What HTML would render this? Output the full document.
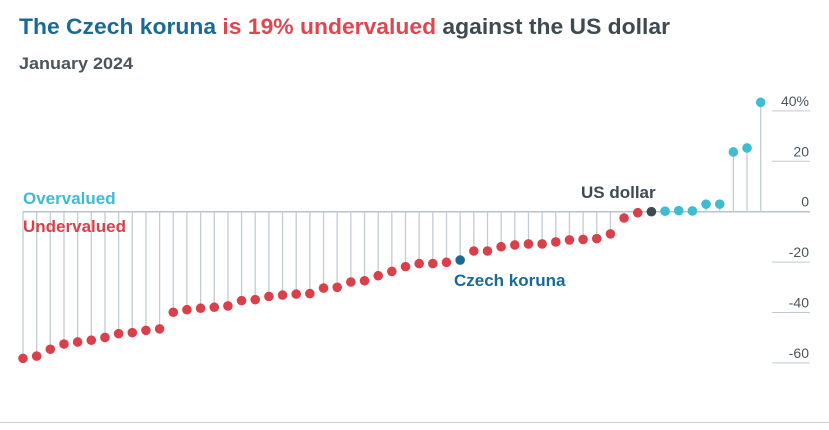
<!DOCTYPE html>
<html><head><meta charset="utf-8"><style>
html,body{margin:0;padding:0;background:#fff;}
svg{display:block;font-family:"Liberation Sans",sans-serif;}
</style></head><body>
<svg id="chart" width="829" height="430" viewBox="0 0 829 430">
<text x="19" y="34" font-size="22" font-weight="bold" textLength="651" lengthAdjust="spacingAndGlyphs"><tspan fill="#1b6a96">The Czech koruna</tspan><tspan fill="#e0464f"> is 19% undervalued</tspan><tspan fill="#3d4a52"> against the US dollar</tspan></text>
<text x="19" y="69" font-size="17" font-weight="bold" fill="#4a555c" textLength="114" lengthAdjust="spacingAndGlyphs">January 2024</text>
<g id="grid"></g>
<g id="stems"></g>
<g id="dots"></g>
<text x="23" y="204" font-size="17" font-weight="bold" fill="#3ebcd2">Overvalued</text>
<text x="23" y="232" font-size="17" font-weight="bold" fill="#d9404b">Undervalued</text>
<text x="581" y="198" font-size="17" font-weight="bold" fill="#3d4a52">US dollar</text>
<text x="454" y="286" font-size="17" font-weight="bold" fill="#1b6a96">Czech koruna</text>
<line x1="0" y1="422.5" x2="829" y2="422.5" stroke="#c9cfd4" stroke-width="1"/>
</svg>
<script>
const values = [-58.2,-57.3,-54.6,-52.5,-51.7,-51.0,-49.9,-48.4,-48.0,-47.1,-46.5,-39.9,-38.9,-38.3,-37.9,-37.4,-35.3,-34.9,-33.6,-33.1,-32.7,-32.5,-30.3,-30.0,-27.9,-27.4,-25.4,-23.7,-21.8,-20.6,-20.6,-20.1,-19.2,-15.6,-15.6,-13.9,-13.2,-12.8,-12.8,-12.0,-11.2,-11.0,-10.7,-8.8,-2.5,-0.4,0,0.2,0.4,0.3,3.0,3.0,23.7,25.3,43.4];
const highlightCzech = 32;
const highlightUSD = 46;
const tickValues = [40,20,0,-20,-40,-60];
const tickLabels = ["40%","20","0","-20","-40","-60"];
const NS="http://www.w3.org/2000/svg";
const y = v => 211.7 - v*2.52;
const x = i => 23 + i*(760.7-23)/(values.length-1);
const grid=document.getElementById('grid'), stems=document.getElementById('stems'), dots=document.getElementById('dots');
tickValues.forEach((t,k)=>{
  const l=document.createElementNS(NS,'line');
  
  
  l.setAttribute('x1', t===0?23:772); l.setAttribute('x2',810);
  l.setAttribute('y1',y(t)); l.setAttribute('y2',y(t));
  l.setAttribute('stroke', t===0?'#b9c3cc':'#c2c9cf'); l.setAttribute('stroke-width', t===0?1.5:1);
  grid.appendChild(l);
  const tx=document.createElementNS(NS,'text');
  
  
  tx.setAttribute('x',809); tx.setAttribute('y',y(t)-5);
  tx.setAttribute('text-anchor','end'); tx.setAttribute('font-size','14'); tx.setAttribute('fill','#4a555c');
  tx.textContent=tickLabels[k];
  grid.appendChild(tx);
});
values.forEach((v,i)=>{
  const s=document.createElementNS(NS,'line');
  
  
  s.setAttribute('x1',x(i)); s.setAttribute('x2',x(i)); s.setAttribute('y1',y(0)); s.setAttribute('y2',y(v));
  s.setAttribute('stroke','#c3ccd4'); s.setAttribute('stroke-width','1.3');
  stems.appendChild(s);
  const c=document.createElementNS(NS,'circle');
  
  
  c.setAttribute('cx',x(i)); c.setAttribute('cy',y(v)); c.setAttribute('r','4.8');
  let col = v<0?'#d9404b':'#3ebcd2';
  if(i===highlightCzech) col='#1b6a96';
  if(i===highlightUSD) col='#3d4a52';
  c.setAttribute('fill',col);
  dots.appendChild(c);
});
</script>
</body></html>
